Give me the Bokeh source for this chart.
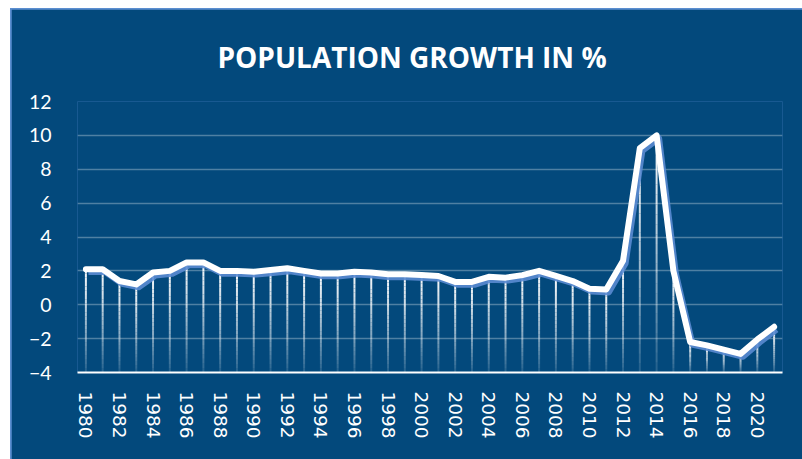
import numpy as np
from bokeh.plotting import figure
from bokeh.models import FixedTicker
from bokeh.embed import file_html
from bokeh.resources import INLINE

years = list(range(1980, 2022))
growth = [2.1, 2.1, 1.4, 1.2, 1.9, 2.0, 2.5, 2.5, 2.0, 2.0,
          1.95, 2.05, 2.15, 2.0, 1.85, 1.85, 1.95, 1.9, 1.8, 1.8,
          1.75, 1.7, 1.35, 1.35, 1.65, 1.6, 1.75, 2.0, 1.7, 1.4,
          0.95, 0.9, 2.6, 9.25, 10.0, 2.0, -2.2, -2.4, -2.65, -2.9,
          -2.05, -1.3]
y_ticks = list(range(-4, 13, 2))
x_ticks = list(range(1980, 2021, 2))
title_text = "POPULATION GROWTH IN %"

BG = "#03497C"
y_min, y_max = -4, 12

p = figure(width=802, height=459, output_backend="svg", toolbar_location=None,
           x_range=(1979.5, 2021.5), y_range=(y_min, y_max),
           min_border_left=66, min_border_right=31, min_border_top=92, min_border_bottom=96)
p.background_fill_color = BG
p.border_fill_color = BG
p.outline_line_color = None
p.styles = {"border-left": "10px solid white", "border-top": "8px solid white",
            "padding-left": "1px", "padding-top": "1px",
            "background-color": "#5B8ED0"}

p.title.text = title_text
p.title.align = "left"
p.title.offset = 140
p.title.standoff = 52
p.title.text_color = "white"
p.title.text_font = "Open Sans"
p.title.text_font_style = "bold"
p.title.text_font_size = "28px"

# drop lines with fading gradient
N = 24
x0s, y0s, x1s, y1s, alphas = [], [], [], [], []
for yr, v in zip(years, growth):
    for k in range(N):
        a = v - (v - y_min) * k / N
        b = v - (v - y_min) * (k + 1) / N
        x0s.append(yr); x1s.append(yr); y0s.append(a); y1s.append(b)
        alphas.append(0.95 - 0.85 * (k / N) ** 1.3)
p.segment(x0=x0s, y0=y0s, x1=x1s, y1=y1s, line_color="white",
          line_alpha=alphas, line_width=2)

# shadow
yrs = np.array(years, dtype=float)
vals = np.array(growth, dtype=float)
p.line(yrs + 0.15, vals - 0.17, line_color="#5A8BD2", line_width=6,
       line_alpha=0.9, line_join="round")
p.line(years, growth, line_color="white", line_width=6, line_join="round",
       line_cap="round")

# axes
p.xgrid.grid_line_color = None
p.ygrid.grid_line_color = "white"
p.ygrid.grid_line_alpha = 0.3
p.ygrid.grid_line_width = 1.5
p.ygrid.ticker = FixedTicker(ticks=y_ticks)

p.yaxis.ticker = FixedTicker(ticks=y_ticks)
p.yaxis.axis_line_color = None
p.yaxis.major_tick_line_color = None
p.yaxis.minor_tick_line_color = None
p.yaxis.major_tick_out = 0
p.yaxis.major_label_standoff = 26
p.yaxis.major_label_text_color = "white"
p.yaxis.major_label_text_font = "Lato"
p.yaxis.major_label_text_font_size = "19.5px"

xa = p.below[0]
xa.ticker = FixedTicker(ticks=x_ticks)
xa.axis_line_color = "white"
xa.axis_line_width = 2
xa.major_tick_line_color = None
xa.minor_tick_line_color = None
xa.major_tick_out = 0
xa.major_label_standoff = 19
xa.major_label_orientation = "vertical"
xa.major_label_text_color = "white"
xa.major_label_text_font = "DejaVu Sans"
xa.major_label_text_font_size = "18.5px"

open("out.html", "w").write(file_html(p, INLINE))
